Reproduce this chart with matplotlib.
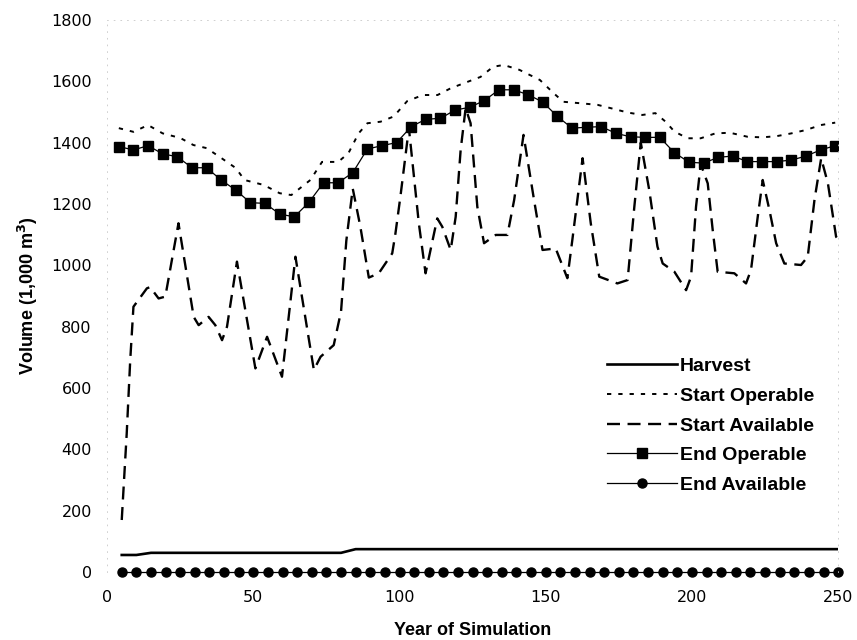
import matplotlib
matplotlib.use("Agg")
import matplotlib.pyplot as plt

plt.rcParams['font.family'] = ['Liberation Sans', 'DejaVu Sans']

# marker series, one value every 5 years
end_op_years = list(range(4, 250, 5))
end_operable = [1387, 1376, 1390, 1363, 1354, 1318, 1318, 1278, 1245, 1204,
                1202, 1167, 1158, 1205, 1269, 1269, 1302, 1379, 1390, 1400,
                1452, 1476, 1479, 1506, 1515, 1537, 1572, 1572, 1556, 1532,
                1485, 1447, 1450, 1452, 1430, 1419, 1417, 1417, 1367, 1336,
                1333, 1352, 1356, 1338, 1338, 1338, 1343, 1356, 1376, 1390]

end_av_years = list(range(5, 251, 5))
end_available = [0] * 50

harvest = [56, 56] + [63] * 14 + [75] * 34

start_op_years = [4, 9, 14, 19, 25, 29.5, 34, 39, 44, 47, 53.5, 59, 63, 69.5,
                  73.5, 79, 82.5, 86, 89, 93.5, 98, 102.6, 108, 113, 117.5,
                  123, 127.7, 132, 135.6, 141, 148, 152.7, 156, 162, 167.7,
                  172.3, 178, 183, 187.5, 191, 194, 198.5, 203, 208, 213,
                  219, 224, 229, 234, 239, 244, 249]
start_operable = [1447, 1435, 1457, 1430, 1415, 1392, 1382, 1350, 1317, 1278,
                  1262, 1235, 1229, 1278, 1337, 1337, 1365, 1430, 1463, 1468,
                  1485, 1535, 1555, 1555, 1577, 1597, 1614, 1647, 1653, 1637,
                  1604, 1561, 1533, 1528, 1523, 1512, 1498, 1490, 1496, 1468,
                  1436, 1414, 1414, 1430, 1432, 1419, 1417, 1421, 1430, 1441,
                  1457, 1465]

start_av_years = [5, 6.7, 7.9, 9, 13.6, 14.7, 17.6, 19.9, 24.4, 29.6, 31.3,
                  34.7, 37, 39.3, 41, 44.4, 50.7, 54.7, 59.8, 64.4, 70.7, 73,
                  77.5, 80, 81.8, 84, 86.6, 89.5, 92.9, 97.5, 98.6, 100.3,
                  103.2, 106.6, 108.9, 112.9, 114.6, 117.5, 119.2, 120.9,
                  122.6, 124.3, 126.6, 128.9, 132.9, 136.9, 139.2, 142.4, 146,
                  148.9, 153.4, 157.4, 159.1, 162.6, 165.4, 168.3, 174.5, 178,
                  180.3, 182.5, 185.4, 188.2, 190, 194, 198, 199.7, 201.4, 203,
                  205.4, 207.1, 208.8, 214.5, 218.5, 220.2, 222.5, 224.2,
                  226.5, 228.8, 231.6, 237.3, 239.6, 241.9, 244.2, 246.5,
                  249.3, 250]
start_available = [170, 452, 691, 865, 925, 929, 892, 898, 1137, 832, 805,
                   832, 805, 756, 800, 1012, 664, 767, 637, 1028, 659, 702,
                   740, 850, 1080, 1250, 1126, 960, 974, 1039, 1104, 1224,
                   1447, 1137, 974, 1153, 1126, 1050, 1158, 1376,
                   1512, 1463, 1191, 1072, 1099, 1099, 1213, 1425, 1213,
                   1050, 1055, 958, 1083, 1349, 1137, 963, 941, 952,
                   1191, 1400, 1245, 1061, 1006, 979, 919, 963, 1191, 1330,
                   1267, 1115, 979, 974, 941, 985, 1158, 1278,
                   1180, 1072, 1006, 1001, 1028, 1213, 1349, 1267,
                   1093, 1085]

fig = plt.figure(figsize=(8.57, 6.40), dpi=100)
ax = fig.add_axes([0.125, 0.106, 0.853, 0.863])

ax.plot(end_av_years, harvest, color='black', lw=1.9, label='Harvest')
ax.plot(start_op_years, start_operable, color='black', lw=1.4,
        dashes=(2.2, 3.6), label='Start Operable')
ax.plot(start_av_years, start_available, color='black', lw=1.7,
        dashes=(5.5, 3.2), label='Start Available')
ax.plot(end_op_years, end_operable, color='black', lw=0.9, marker='s',
        markersize=7.6, label='End Operable')
ax.plot(end_av_years, end_available, color='black', lw=0.9, marker='o',
        markersize=6.5, label='End Available', clip_on=False)

ax.set_xlim(0, 250)
ax.set_ylim(0, 1800)
ax.set_xticks([0, 50, 100, 150, 200, 250])
ax.set_yticks(range(0, 1801, 200))
ax.tick_params(length=0)
ax.tick_params(axis='y', pad=11)
ax.tick_params(axis='x', pad=13)
for lbl in ax.get_xticklabels() + ax.get_yticklabels():
    lbl.set_fontfamily('DejaVu Sans')
    lbl.set_fontsize(11.5)

for side in ['left', 'top', 'right']:
    ax.spines[side].set_color('#c8c8c8')
    ax.spines[side].set_linestyle((0, (1, 7)))
    ax.spines[side].set_linewidth(0.6)
ax.spines['bottom'].set_visible(False)

ax.set_xlabel('Year of Simulation', fontsize=13, fontweight='bold',
              labelpad=12)
ax.set_ylabel('Volume (1,000 m$^\\mathbf{3}$)', fontsize=13,
              fontweight='bold', labelpad=8)

leg = ax.legend(loc='upper left', bbox_to_anchor=(0.66, 0.42),
                frameon=False, handlelength=3.6, handletextpad=0.15,
                labelspacing=0.62, prop={'weight': 'bold', 'size': 14})

fig.savefig('out.png', dpi=100)
